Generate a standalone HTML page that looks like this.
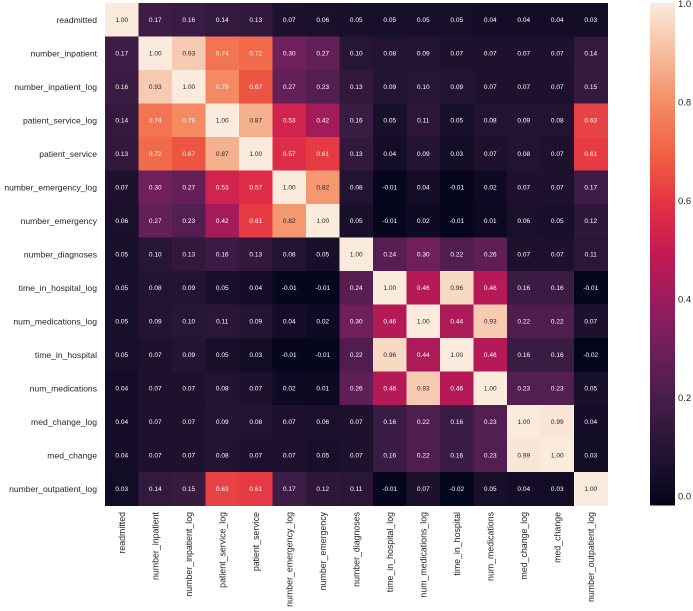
<!DOCTYPE html>
<html><head><meta charset="utf-8"><style>
html,body{margin:0;padding:0;background:#fff;}
svg{display:block;font-family:"Liberation Sans",Arial,sans-serif;}
</style></head><body>
<svg id="chart" width="693" height="611" viewBox="0 0 693 611"></svg>
<script>
const labels = ["readmitted","number_inpatient","number_inpatient_log","patient_service_log","patient_service","number_emergency_log","number_emergency","number_diagnoses","time_in_hospital_log","num_medications_log","time_in_hospital","num_medications","med_change_log","med_change","number_outpatient_log"];
const row0 = [1.00,0.17,0.16,0.14,0.13,0.07,0.06,0.05,0.05,0.05,0.05,0.04,0.04,0.04,0.03];
const row1 = [0.17,1.00,0.93,0.74,0.72,0.30,0.27,0.10,0.08,0.09,0.07,0.07,0.07,0.07,0.14];
const row2 = [0.16,0.93,1.00,0.79,0.67,0.27,0.23,0.13,0.09,0.10,0.09,0.07,0.07,0.07,0.15];
const row3 = [0.14,0.74,0.79,1.00,0.87,0.53,0.42,0.16,0.05,0.11,0.05,0.08,0.09,0.08,0.63];
const row4 = [0.13,0.72,0.67,0.87,1.00,0.57,0.61,0.13,0.04,0.09,0.03,0.07,0.08,0.07,0.61];
const row5 = [0.07,0.30,0.27,0.53,0.57,1.00,0.82,0.08,-0.01,0.04,-0.01,0.02,0.07,0.07,0.17];
const row6 = [0.06,0.27,0.23,0.42,0.61,0.82,1.00,0.05,-0.01,0.02,-0.01,0.01,0.06,0.05,0.12];
const row7 = [0.05,0.10,0.13,0.16,0.13,0.08,0.05,1.00,0.24,0.30,0.22,0.26,0.07,0.07,0.11];
const row8 = [0.05,0.08,0.09,0.05,0.04,-0.01,-0.01,0.24,1.00,0.46,0.96,0.46,0.16,0.16,-0.01];
const row9 = [0.05,0.09,0.10,0.11,0.09,0.04,0.02,0.30,0.46,1.00,0.44,0.93,0.22,0.22,0.07];
const row10 = [0.05,0.07,0.09,0.05,0.03,-0.01,-0.01,0.22,0.96,0.44,1.00,0.46,0.16,0.16,-0.02];
const row11 = [0.04,0.07,0.07,0.08,0.07,0.02,0.01,0.26,0.46,0.93,0.46,1.00,0.23,0.23,0.05];
const row12 = [0.04,0.07,0.07,0.09,0.08,0.07,0.06,0.07,0.16,0.22,0.16,0.23,1.00,0.99,0.04];
const row13 = [0.04,0.07,0.07,0.08,0.07,0.07,0.05,0.07,0.16,0.22,0.16,0.23,0.99,1.00,0.03];
const row14 = [0.03,0.14,0.15,0.63,0.61,0.17,0.12,0.11,-0.01,0.07,-0.02,0.05,0.04,0.03,1.00];
const matrix = [row0,row1,row2,row3,row4,row5,row6,row7,row8,row9,row10,row11,row12,row13,row14];
const cbTicks = [0.0,0.2,0.4,0.6,0.8,1.0];

const NS="http://www.w3.org/2000/svg";
const svg=document.getElementById('chart');
const gx0=105,gy0=3,gx1=607.5,gy1=505.5;
const n=labels.length, cw=(gx1-gx0)/n, ch=(gy1-gy0)/n;
const vmin=-0.02, vmax=1.0;
const stops=[[0,[3,5,26]],[0.1,[34,19,49]],[0.2,[65,29,72]],[0.3,[105,31,90]],[0.4,[150,28,94]],[0.5,[195,25,82]],[0.6,[228,50,68]],[0.7,[240,96,67]],[0.8,[244,140,100]],[0.9,[246,189,158]],[1,[250,235,221]]];
function cmap(v){let t=(v-vmin)/(vmax-vmin);t=Math.max(0,Math.min(1,t));
 for(let i=1;i<stops.length;i++){if(t<=stops[i][0]){const a=stops[i-1],b=stops[i];const f=(t-a[0])/(b[0]-a[0]);
 return 'rgb('+a[1].map((c,k)=>Math.round(c+(b[1][k]-c)*f)).join(',')+')';}}return 'rgb(250,235,221)';}
function xS(j){return gx0+j*cw;} function yS(i){return gy0+i*ch;}
function mk(tag,attrs){const e=document.createElementNS(NS,tag);for(const k in attrs)e.setAttribute(k,attrs[k]);return e;}

matrix.forEach((row,i)=>{row.forEach((v,j)=>{
 const r=mk('rect',{x:xS(j),y:yS(i),width:cw+0.5,height:ch+0.5,fill:cmap(v)});
 
 
 svg.appendChild(r);
 const t=mk('text',{x:xS(j)+cw/2,y:yS(i)+ch/2+2,'text-anchor':'middle','font-size':'6.5',fill:((v-vmin)/(vmax-vmin)<0.8)?'#fff':'#262626'});
 t.textContent=v.toFixed(2);
 
 
 svg.appendChild(t);
});});

labels.forEach((l,i)=>{
 const t=mk('text',{x:97,y:yS(i)+ch/2+3,'text-anchor':'end','font-size':'8.6',fill:'#262626'});
 t.textContent=l;
 
 
 svg.appendChild(t);
 const cx=xS(i)+cw/2+3;
 const c=mk('text',{x:0,y:0,'text-anchor':'end','font-size':'8.8',fill:'#262626',transform:'translate('+cx+',512) rotate(-90)'});
 c.textContent=l;
 
 
 svg.appendChild(c);
});

// colorbar
const cbx=650,cbw=25,cbTop=gy0,cbBot=gy1;
const defs=mk('defs',{});const lg=mk('linearGradient',{id:'cbg',x1:0,y1:1,x2:0,y2:0});
for(let k=0;k<=20;k++){const v=vmin+(vmax-vmin)*k/20;lg.appendChild(mk('stop',{offset:k/20,'stop-color':cmap(v)}));}
defs.appendChild(lg);svg.appendChild(defs);
const cb=mk('rect',{x:cbx,y:cbTop,width:cbw,height:cbBot-cbTop,fill:'url(#cbg)'});


svg.appendChild(cb);
function cbY(v){return cbBot-(v-vmin)/(vmax-vmin)*(cbBot-cbTop);}
cbTicks.forEach(v=>{
 const t=mk('text',{x:678,y:cbY(v)+4,'font-size':'9.5',fill:'#262626'});
 t.textContent=v.toFixed(1);
 
 
 svg.appendChild(t);
});
</script>
</body></html>
